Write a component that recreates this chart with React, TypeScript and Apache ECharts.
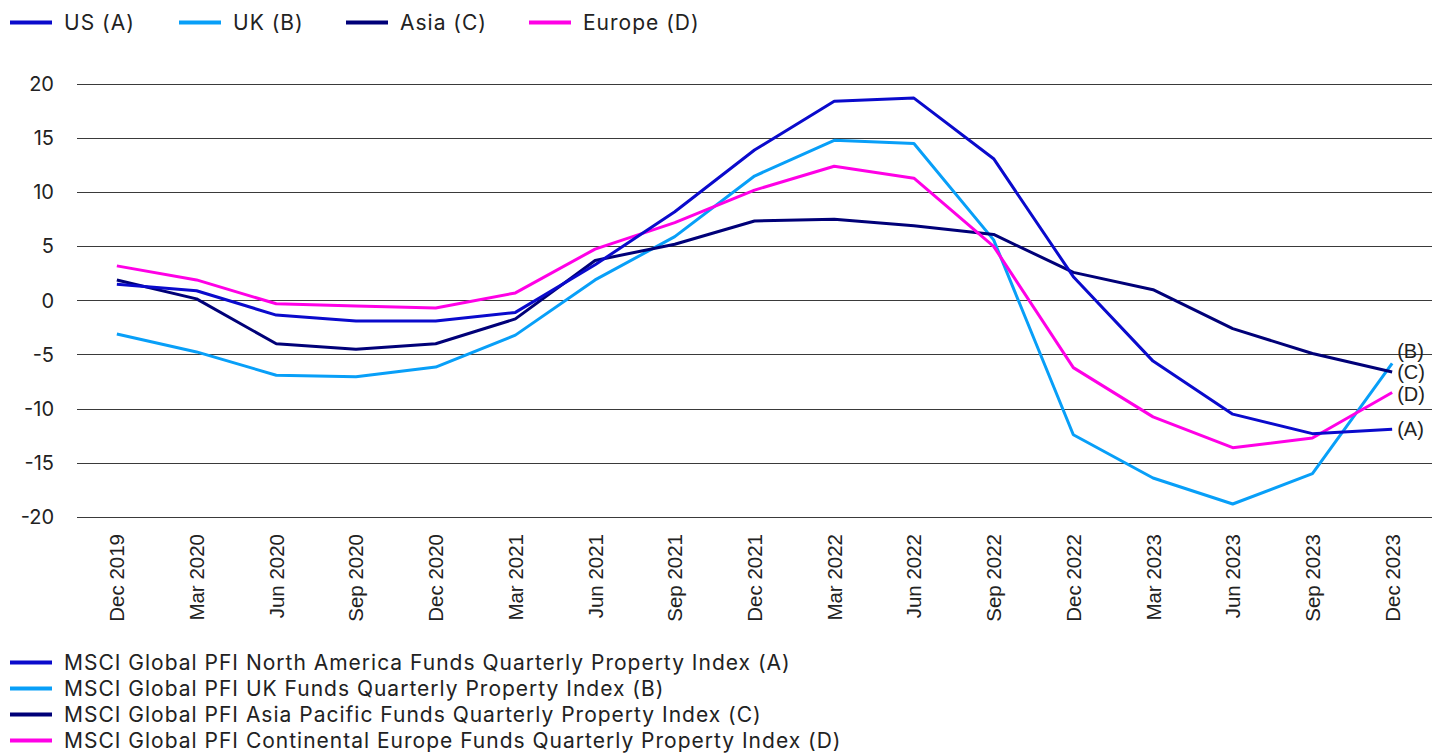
import React, { useEffect, useRef } from "react";
import * as echarts from "echarts";

const categories = [
  "Dec 2019", "Mar 2020", "Jun 2020", "Sep 2020", "Dec 2020", "Mar 2021", "Jun 2021", "Sep 2021",
  "Dec 2021", "Mar 2022", "Jun 2022", "Sep 2022", "Dec 2022", "Mar 2023", "Jun 2023", "Sep 2023", "Dec 2023",
];

const usA = [1.5, 0.9, -1.35, -1.9, -1.9, -1.1, 3.3, 8.2, 13.9, 18.4, 18.7, 13.1, 2.2, -5.6, -10.5, -12.3, -11.9];
const ukB = [-3.1, -4.75, -6.9, -7.05, -6.15, -3.2, 1.9, 5.9, 11.5, 14.8, 14.5, 5.6, -12.4, -16.4, -18.8, -16.0, -5.8];
const asiaC = [1.9, 0.15, -4.0, -4.5, -4.0, -1.7, 3.7, 5.2, 7.35, 7.5, 6.9, 6.1, 2.6, 1.0, -2.6, -4.9, -6.6];
const europeD = [3.2, 1.9, -0.3, -0.5, -0.7, 0.7, 4.75, 7.2, 10.2, 12.4, 11.3, 5.0, -6.2, -10.75, -13.6, -12.7, -8.5];

const shortNames = ["US (A)", "UK (B)", "Asia (C)", "Europe (D)"];
const longNames = [
  "MSCI Global PFI North America Funds Quarterly Property Index (A)",
  "MSCI Global PFI UK Funds Quarterly Property Index (B)",
  "MSCI Global PFI Asia Pacific Funds Quarterly Property Index (C)",
  "MSCI Global PFI Continental Europe Funds Quarterly Property Index (D)",
];
const endTags = ["(A)", "(B)", "(C)", "(D)"];
const colors = ["#0a0acc", "#089ff8", "#000078", "#ff00e6"];
const seriesData = [usA, ukB, asiaC, europeD];
const labelOffsets = [[0, 0], [0, -12], [0, 0], [0, 1]];
const topLegendLeft = [10, 179, 346, 529];

const FONT = "Inter, 'Noto Sans', sans-serif";
const ARIAL = "'Liberation Sans', Arial, sans-serif";
const TEXT = "#222222";

export default function App() {
  const ref = useRef<HTMLDivElement>(null);
  useEffect(() => {
    document.body.style.margin = "0";
    const st = document.createElement("style");
    st.textContent = 'text[style*="21px"], text[font-size="21"], text[font-size="21px"] { letter-spacing: 1px; }';
    document.head.appendChild(st);
    const chart = echarts.init(ref.current!, null, { renderer: "svg" });
    const mainSeries = seriesData.map((d, i) => ({
      name: shortNames[i],
      type: "line",
      data: d,
      symbol: "none",
      lineStyle: { width: 3, color: colors[i] },
      itemStyle: { color: colors[i] },
      z: i === 0 ? 5 : 3,
      endLabel: {
        show: true,
        formatter: endTags[i],
        color: TEXT,
        fontSize: 20,
        fontFamily: ARIAL,
        distance: 5,
        offset: labelOffsets[i],
      },
    }));
    const dummySeries = longNames.map((n, i) => ({
      name: n,
      type: "line",
      data: [],
      symbol: "none",
      lineStyle: { width: 3, color: colors[i] },
      itemStyle: { color: colors[i] },
    }));
    const legendText = { fontSize: 21, lineHeight: 21, color: TEXT, fontFamily: FONT, padding: [0, 0, 0, 7] };
    const topLegends = shortNames.map((n, i) => ({
      data: [n],
      left: topLegendLeft[i],
      top: 12,
      itemWidth: 42,
      itemHeight: 4,
      icon: "rect",
      textStyle: legendText,
      padding: 0,
    }));
    chart.setOption({
      animation: false,
      textStyle: { fontFamily: FONT, color: TEXT },
      legend: [
        ...topLegends,
        {
          data: longNames,
          orient: "vertical",
          left: 10,
          top: 652,
          itemWidth: 42,
          itemHeight: 4,
          itemGap: 5,
          icon: "rect",
          textStyle: legendText,
          padding: 0,
        },
      ],
      grid: { left: 77, right: 9, top: 84, bottom: 236, containLabel: false },
      xAxis: {
        type: "category",
        data: categories,
        boundaryGap: true,
        axisLine: { show: false },
        axisTick: { show: false },
        axisLabel: {
          rotate: 90,
          fontSize: 20.5,
          color: TEXT,
          fontFamily: ARIAL,
          margin: 17,
          interval: 0,
        },
      },
      yAxis: {
        type: "value",
        min: -20,
        max: 20,
        interval: 5,
        axisLine: { show: false },
        axisTick: { show: false },
        axisLabel: { fontSize: 20, color: TEXT, fontFamily: FONT, margin: 23 },
        splitLine: { lineStyle: { color: "#3a3a3a", width: 1 } },
      },
      series: [...mainSeries, ...dummySeries],
    });
    return () => {
      chart.dispose();
      st.remove();
    };
  }, []);
  return (
    <div
      ref={ref}
      style={{ position: "absolute", left: 0, top: 0, width: 1441, height: 753 }}
    />
  );
}
